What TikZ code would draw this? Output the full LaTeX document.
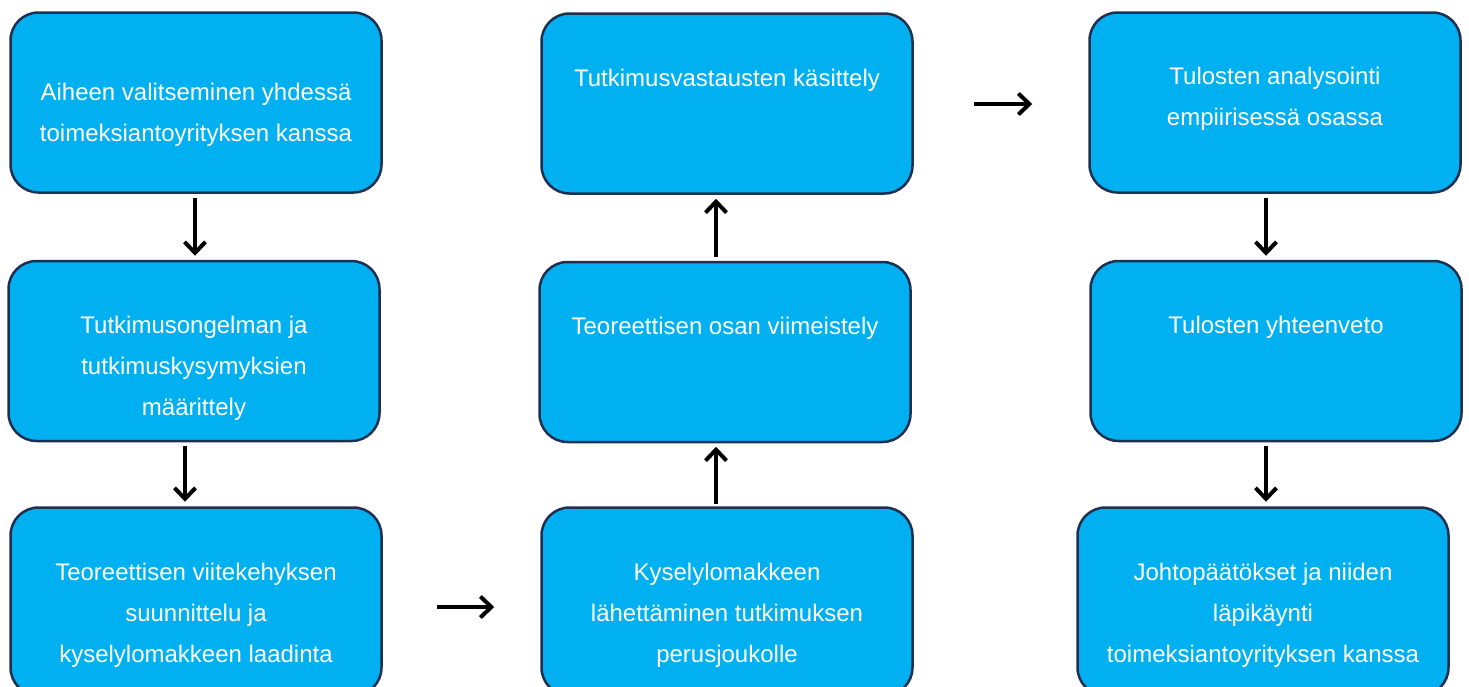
\documentclass[tikz,border=0pt]{standalone}
\usepackage{fontspec}
\setmainfont{Liberation Sans}
\usetikzlibrary{arrows.meta}
\definecolor{boxblue}{HTML}{00B0F0}
\definecolor{boxline}{HTML}{1F2F4F}
\tikzset{
	box/.style={draw=boxline, fill=boxblue, line width=2.5pt, rounded corners=28pt, minimum width=371pt, inner sep=0pt},
	boxtext/.style={text=white, align=center, font=\fontsize{24}{41}\selectfont},
	arr/.style={line width=4pt, -{Straight Barb[length=11pt,width=21pt,line width=4pt]}}
}
\begin{document}
\begin{tikzpicture}[x=1pt,y=-1pt]
	\clip (0,0) rectangle (1469,686);
	\foreach \n/\x/\y/\h/\dy/\t in {
		A/196/102.5/180/-12/{Aiheen valitseminen yhdessä\\toimeksiantoyrityksen kanssa},
		B/194/351/180/-17/{Tutkimusongelman ja\\tutkimuskysymyksien\\määrittely},
		C/196/601.5/188/-13.5/{Teoreettisen viitekehyksen\\suunnittelu ja\\kyselylomakkeen laadinta},
		D/727/103.5/180/23.5/{Tutkimusvastausten käsittely},
		E/725/352/180/24/{Teoreettisen osan viimeistely},
		F/727/601.5/188/-13.5/{Kyselylomakkeen\\lähettäminen tutkimuksen\\perusjoukolle},
		G/1275/102.5/180/4/{Tulosten analysointi\\empiirisessä osassa},
		H/1276/351/180/24/{Tulosten yhteenveto},
		I/1263/601.5/188/-13.5/{Johtopäätökset ja niiden\\läpikäynti\\toimeksiantoyrityksen kanssa}}
	{
		\node[box, minimum height=\h pt] (\n) at (\x,\y) {};
		\node[boxtext] (\n t) at ([yshift=\dy pt]\n.center) {\t};
	}
	\draw[arr] ([xshift=-1pt,yshift=-4pt]A.south) -- ([xshift=1pt,yshift=4pt]B.north);
	\draw[arr] ([xshift=-9pt,yshift=-4pt]B.south) -- ([xshift=-11pt,yshift=4.5pt]C.north);
	\draw[arr] ([xshift=54pt,yshift=-5.5pt]C.east) -- ([xshift=-46pt,yshift=-5.5pt]F.west);
	\draw[arr] ([xshift=-11pt,yshift=2.5pt]F.north) -- ([xshift=-9pt,yshift=-3.5pt]E.south);
	\draw[arr] ([xshift=-9pt,yshift=4pt]E.north) -- ([xshift=-11pt,yshift=-4pt]D.south);
	\draw[arr] ([xshift=60.5pt,yshift=-0.5pt]D.east) -- ([xshift=-56pt,yshift=-1.5pt]G.west);
	\draw[arr] ([xshift=-9pt,yshift=-4pt]G.south) -- ([xshift=-10pt,yshift=4pt]H.north);
	\draw[arr] ([xshift=-10pt,yshift=-4pt]H.south) -- ([xshift=3pt,yshift=4.5pt]I.north);
\end{tikzpicture}
\end{document}
